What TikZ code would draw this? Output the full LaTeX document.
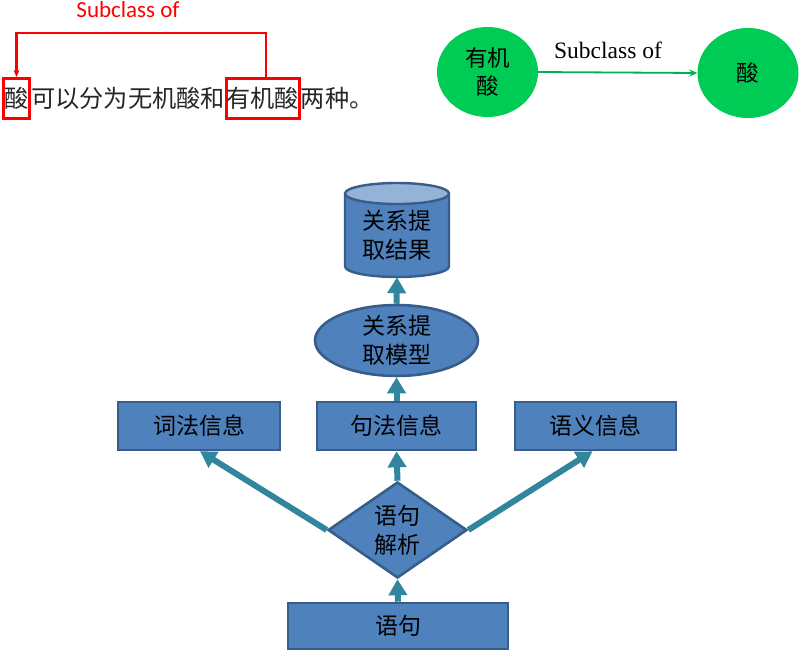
\documentclass[tikz,border=0pt]{standalone}
\usepackage{fontspec}
\setmainfont{Liberation Serif}
\newfontfamily\cjk{Noto Sans CJK SC}
\newfontfamily\calfont{Carlito}
\usetikzlibrary{arrows.meta,shapes.geometric,calc}
\definecolor{boxblue}{HTML}{4F81BD}
\definecolor{bdr}{HTML}{385D8A}
\definecolor{cyltop}{HTML}{95B3D7}
\definecolor{tealc}{HTML}{31859C}
\definecolor{grn}{RGB}{0,204,85}
\definecolor{grnline}{RGB}{0,176,80}
\definecolor{redc}{RGB}{255,0,0}
\begin{document}
\begin{tikzpicture}[x=1pt,y=-1pt,
  sent/.style={font=\cjk\fontsize{24.2}{29}\selectfont, text=black!85, inner sep=0pt, text height=21.5pt, text depth=2.9pt},
  redbox/.style={draw=redc, line width=3pt, minimum height=40pt},
  gell/.style={ellipse, fill=grn, minimum width=101pt, minimum height=90pt, inner sep=0pt, align=center, font=\cjk\fontsize{22.5}{28}\selectfont},
  bbox/.style={draw=bdr, fill=boxblue, line width=2.6pt, inner sep=0pt, align=center, font=\cjk\fontsize{23}{29}\selectfont},
  arr/.style={tealc, line width=6pt, -{Triangle[width=18pt,length=16pt]}},
]
\useasboundingbox (0,0) rectangle (800,651);
% sentence
\node[sent, redbox, minimum width=26pt] (s1) at (16.5,98.5) {酸};
\node[sent, anchor=west] (s2) at (s1.east) {可以分为无机酸和};
\node[sent, redbox, anchor=west, minimum width=71.5pt] (s3) at (s2.east) {有机酸};
\node[sent, anchor=west] (s4) at (s3.east) {两种。};
\coordinate (rtop) at (0,33);
\draw[redc, line width=2.2pt, -{Stealth[length=7pt,width=6pt]}] ([xshift=3.5pt]s3.north) |- (s1.north |- rtop) -- (s1.north);
\node[font=\calfont\fontsize{23}{23}\selectfont, text=redc] (lbl1) at (128,10) {Subclass of};
% green graph
\node[gell] (e1) at (487.5,72) {有机\\酸};
\node[gell] (e2) at (748,73) {酸};
\draw[grnline, line width=1.8pt, -{Stealth[length=8pt,width=7pt]}] (e1.east) -- (e2.west);
\node[font=\fontsize{23.5}{23.5}\selectfont] (lbl2) at (608,50) {Subclass of};
% cylinder
\fill[boxblue] (345,193.5) -- (345,266.5) arc[start angle=180,end angle=360,x radius=52pt,y radius=10.5pt] -- (449,193.5) -- cycle;
\draw[bdr, line width=2.4pt] (345,193.5) -- (345,266.5) arc[start angle=180,end angle=360,x radius=52pt,y radius=10.5pt] -- (449,193.5);
\draw[bdr, line width=2.4pt, fill=cyltop] (397,193.5) ellipse[x radius=52pt, y radius=10.5pt];
\node[inner sep=0pt, minimum width=104pt, minimum height=83.5pt, align=center, font=\cjk\fontsize{23}{29}\selectfont] (cyl) at (397,235.25) {关系提\\取结果};
% model
\node[bbox, ellipse, minimum width=163pt, minimum height=65pt] (mx) at (396.5,340.5) {关系提\\取模型};
% info boxes
\node[bbox, minimum width=162pt, minimum height=48pt] (cifa) at (199,426) {词法信息};
\node[bbox, minimum width=159pt, minimum height=48pt] (jufa) at (396.5,426) {句法信息};
\node[bbox, minimum width=161pt, minimum height=48pt] (yuyi) at (595.5,426) {语义信息};
% diamond
\node[bbox, diamond, aspect=1.45, minimum width=139pt, minimum height=96pt] (jx) at (397.5,530) {语句\\解析};
% sentence box
\node[bbox, minimum width=220pt, minimum height=46pt] (yj) at (398,626) {语句};
% arrows
\draw[arr] (yj.north) -- (jx.south);
\draw[arr] (jx.north) -- (jufa.south);
\draw[arr] (jx.west) -- ([xshift=1pt]cifa.south);
\draw[arr] (jx.east) -- ([xshift=-3pt]yuyi.south);
\draw[arr] (jufa.north) -- (mx.south);
\draw[arr] (mx.north) -- (cyl.south);
\end{tikzpicture}
\end{document}
